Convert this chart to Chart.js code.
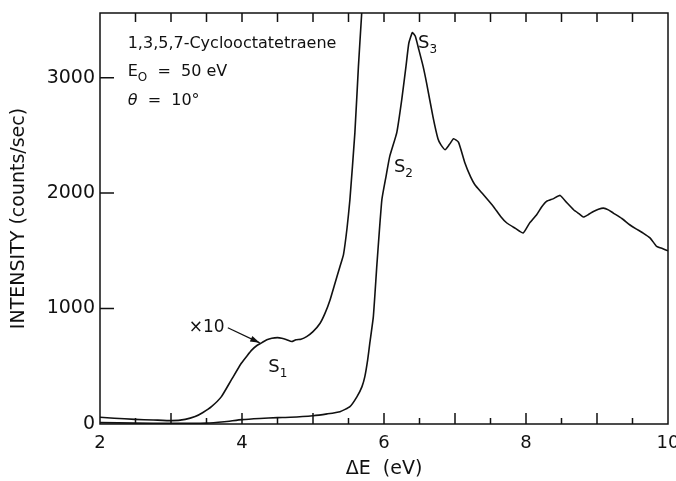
<!DOCTYPE html>
<html>
<head>
<meta charset="utf-8">
<script src="https://cdn.jsdelivr.net/npm/chart.js@4"></script>
<style>
  body { margin: 0; background: #fff; }
  #wrap { width: 676px; height: 481px; position: relative; }
</style>
</head>
<body>
<div id="wrap"><canvas id="eels"></canvas></div>
<script>
// main spectrum (x1)
const mainE = [2.0, 2.5, 3.0, 3.5, 3.75, 4.0, 4.25, 4.5, 4.68, 5.0, 5.2, 5.38, 5.52, 5.62, 5.69, 5.73, 5.77, 5.80, 5.85, 5.90,
  5.97, 6.03, 6.08, 6.18, 6.25, 6.31, 6.35, 6.40, 6.44, 6.49, 6.55, 6.60, 6.69, 6.76, 6.80, 6.86, 6.92, 6.98, 7.05, 7.14,
  7.22, 7.28, 7.38, 7.54, 7.64, 7.73, 7.85, 7.96, 8.05, 8.15, 8.22, 8.29, 8.38, 8.48, 8.57, 8.67, 8.75, 8.81, 8.88, 8.95,
  9.02, 9.09, 9.16, 9.23, 9.35, 9.46, 9.55, 9.65, 9.75, 9.84, 9.92, 10.0];
const mainI = [12, 8, 5, 8, 20, 38, 48, 55, 58, 72, 88, 107, 150, 237, 324, 410, 555, 700, 930, 1380,
  1943, 2150, 2316, 2524, 2810, 3100, 3300, 3390, 3360, 3244, 3100, 2953, 2660, 2470, 2420, 2376, 2420, 2470, 2440, 2261,
  2140, 2073, 2001, 1885, 1800, 1741, 1695, 1654, 1740, 1813, 1880, 1928, 1950, 1980, 1920, 1856, 1820, 1793, 1815, 1841,
  1860, 1870, 1855, 1827, 1780, 1726, 1690, 1654, 1610, 1538, 1520, 1500];

// x10 trace
const x10E = [2.0, 2.2, 2.49, 2.75, 3.01, 3.2, 3.34, 3.45, 3.57, 3.71, 3.85, 3.99, 4.07, 4.14, 4.21, 4.28, 4.35, 4.42, 4.5, 4.56,
  4.63, 4.70, 4.76, 4.83, 4.91, 5.0, 5.10, 5.17, 5.24, 5.31, 5.38, 5.43, 5.48, 5.52, 5.59, 5.64, 5.68, 5.70];
const x10I = [58, 50, 40, 35, 29, 40, 64, 100, 150, 237, 382, 526, 590, 642, 680, 705, 730, 743, 748, 743,
  730, 714, 730, 735, 757, 800, 873, 960, 1075, 1220, 1364, 1470, 1700, 1943, 2524, 3100, 3500, 3700];

const xTickLabels = [2, 4, 6, 8, 10];
const yTickValues = [0, 1000, 2000, 3000];

const FONT = "'DejaVu Sans', sans-serif";
const INK = '#111';

function toPoints(xs, ys) {
  return xs.map((x, i) => ({ x: x, y: ys[i] }));
}

function sub(ctx, parts, x, y) {
  // parts: [text, isSub, font]
  parts.forEach(p => {
    if (p[1]) {
      ctx.font = '12px ' + FONT;
      ctx.fillText(p[0], x, y + 5);
    } else {
      ctx.font = p[2] || ('18px ' + FONT);
      ctx.fillText(p[0], x, y);
    }
    x += ctx.measureText(p[0]).width;
  });
}

const framePlugin = {
  id: 'frame',
  afterDatasetsDraw(chart) {
    const ctx = chart.ctx;
    const a = chart.chartArea;
    const xs = chart.scales.x, ys = chart.scales.y;
    ctx.save();
    ctx.strokeStyle = INK;
    ctx.lineWidth = 1.5;
    ctx.strokeRect(a.left, a.top, a.right - a.left, a.bottom - a.top);
    // inward ticks
    ctx.beginPath();
    xs.ticks.forEach(t => {
      const px = xs.getPixelForValue(t.value);
      if (px <= a.left + 1 || px >= a.right - 1) return;
      const major = Number.isInteger(t.value);
      ctx.moveTo(px, a.bottom);
      ctx.lineTo(px, a.bottom - (major ? 11 : 6));
      ctx.moveTo(px, a.top);
      ctx.lineTo(px, a.top + 9);
    });
    ys.ticks.forEach(t => {
      const py = ys.getPixelForValue(t.value);
      if (py >= a.bottom - 1) return;
      ctx.moveTo(a.left, py);
      ctx.lineTo(a.left + 14, py);
    });
    ctx.stroke();

    // annotations
    ctx.fillStyle = INK;
    ctx.textBaseline = 'alphabetic';
    ctx.textAlign = 'left';
    const X = v => xs.getPixelForValue(v), Y = v => ys.getPixelForValue(v);
    const f16 = '16px ' + FONT;
    ctx.font = f16;
    ctx.fillText('1,3,5,7-Cyclooctatetraene', X(2.39), Y(3261));
    sub(ctx, [['E', false, f16], ['O', true], ['  =  50 eV', false, f16]], X(2.39), Y(3010));
    sub(ctx, [['\u03b8', false, 'italic 16px ' + FONT], ['  =  10\u00b0', false, f16]], X(2.39), Y(2767));

    sub(ctx, [['S', false], ['1', true]], X(4.37), Y(450));
    sub(ctx, [['S', false], ['2', true]], X(6.14), Y(2180));
    sub(ctx, [['S', false], ['3', true]], X(6.48), Y(3255));

    ctx.font = '17px ' + FONT;
    ctx.fillText('\u00d710', X(3.25), Y(800));

    // arrow to the x10 trace
    const x0 = X(3.80), y0 = Y(833), x1 = X(4.25), y1 = Y(703);
    ctx.lineWidth = 1.2;
    ctx.beginPath();
    ctx.moveTo(x0, y0);
    ctx.lineTo(x1, y1);
    ctx.stroke();
    const ang = Math.atan2(y1 - y0, x1 - x0);
    ctx.beginPath();
    ctx.moveTo(x1, y1);
    ctx.lineTo(x1 - 10 * Math.cos(ang - 0.3), y1 - 10 * Math.sin(ang - 0.3));
    ctx.lineTo(x1 - 10 * Math.cos(ang + 0.3), y1 - 10 * Math.sin(ang + 0.3));
    ctx.closePath();
    ctx.fill();
    ctx.restore();
  }
};

new Chart('eels', {
  type: 'scatter',
  data: {
    datasets: [
      { data: toPoints(mainE, mainI), showLine: true, borderColor: INK, borderWidth: 1.6, pointRadius: 0, tension: 0.15 },
      { data: toPoints(x10E, x10I), showLine: true, borderColor: INK, borderWidth: 1.6, pointRadius: 0, tension: 0.15 }
    ]
  },
  options: {
    responsive: true,
    maintainAspectRatio: false,
    animation: false,
    layout: { padding: { top: 13, right: 8, left: 0, bottom: 0 } },
    plugins: { legend: { display: false }, tooltip: { enabled: false } },
    scales: {
      x: {
        type: 'linear',
        min: 2, max: 10,
        grid: { display: false, drawTicks: false },
        border: { display: false },
        ticks: {
          stepSize: 0.5,
          autoSkip: false,
          maxRotation: 0,
          padding: 9,
          color: INK,
          font: { family: FONT, size: 18 },
          callback: v => xTickLabels.includes(v) ? String(v) : ''
        },
        title: { display: true, text: '\u0394E  (eV)', color: INK, font: { family: FONT, size: 19 }, padding: { top: 0, bottom: 1 } },
        afterFit: s => { s.height = 57; s.paddingLeft = 0; s.paddingRight = 0; }
      },
      y: {
        min: 0, max: 3560,
        grid: { display: false, drawTicks: false },
        border: { display: false },
        afterBuildTicks: s => { s.ticks = yTickValues.map(v => ({ value: v })); },
        ticks: { padding: 5, color: INK, font: { family: FONT, size: 19 }, callback: v => String(v) },
        title: { display: true, text: 'INTENSITY (counts/sec)', color: INK, font: { family: FONT, size: 19 }, padding: { top: 8, bottom: 0 } },
        afterFit: s => { s.width = 100; s.paddingTop = 0; s.paddingBottom = 0; }
      }
    }
  },
  plugins: [framePlugin]
});
</script>
</body>
</html>
